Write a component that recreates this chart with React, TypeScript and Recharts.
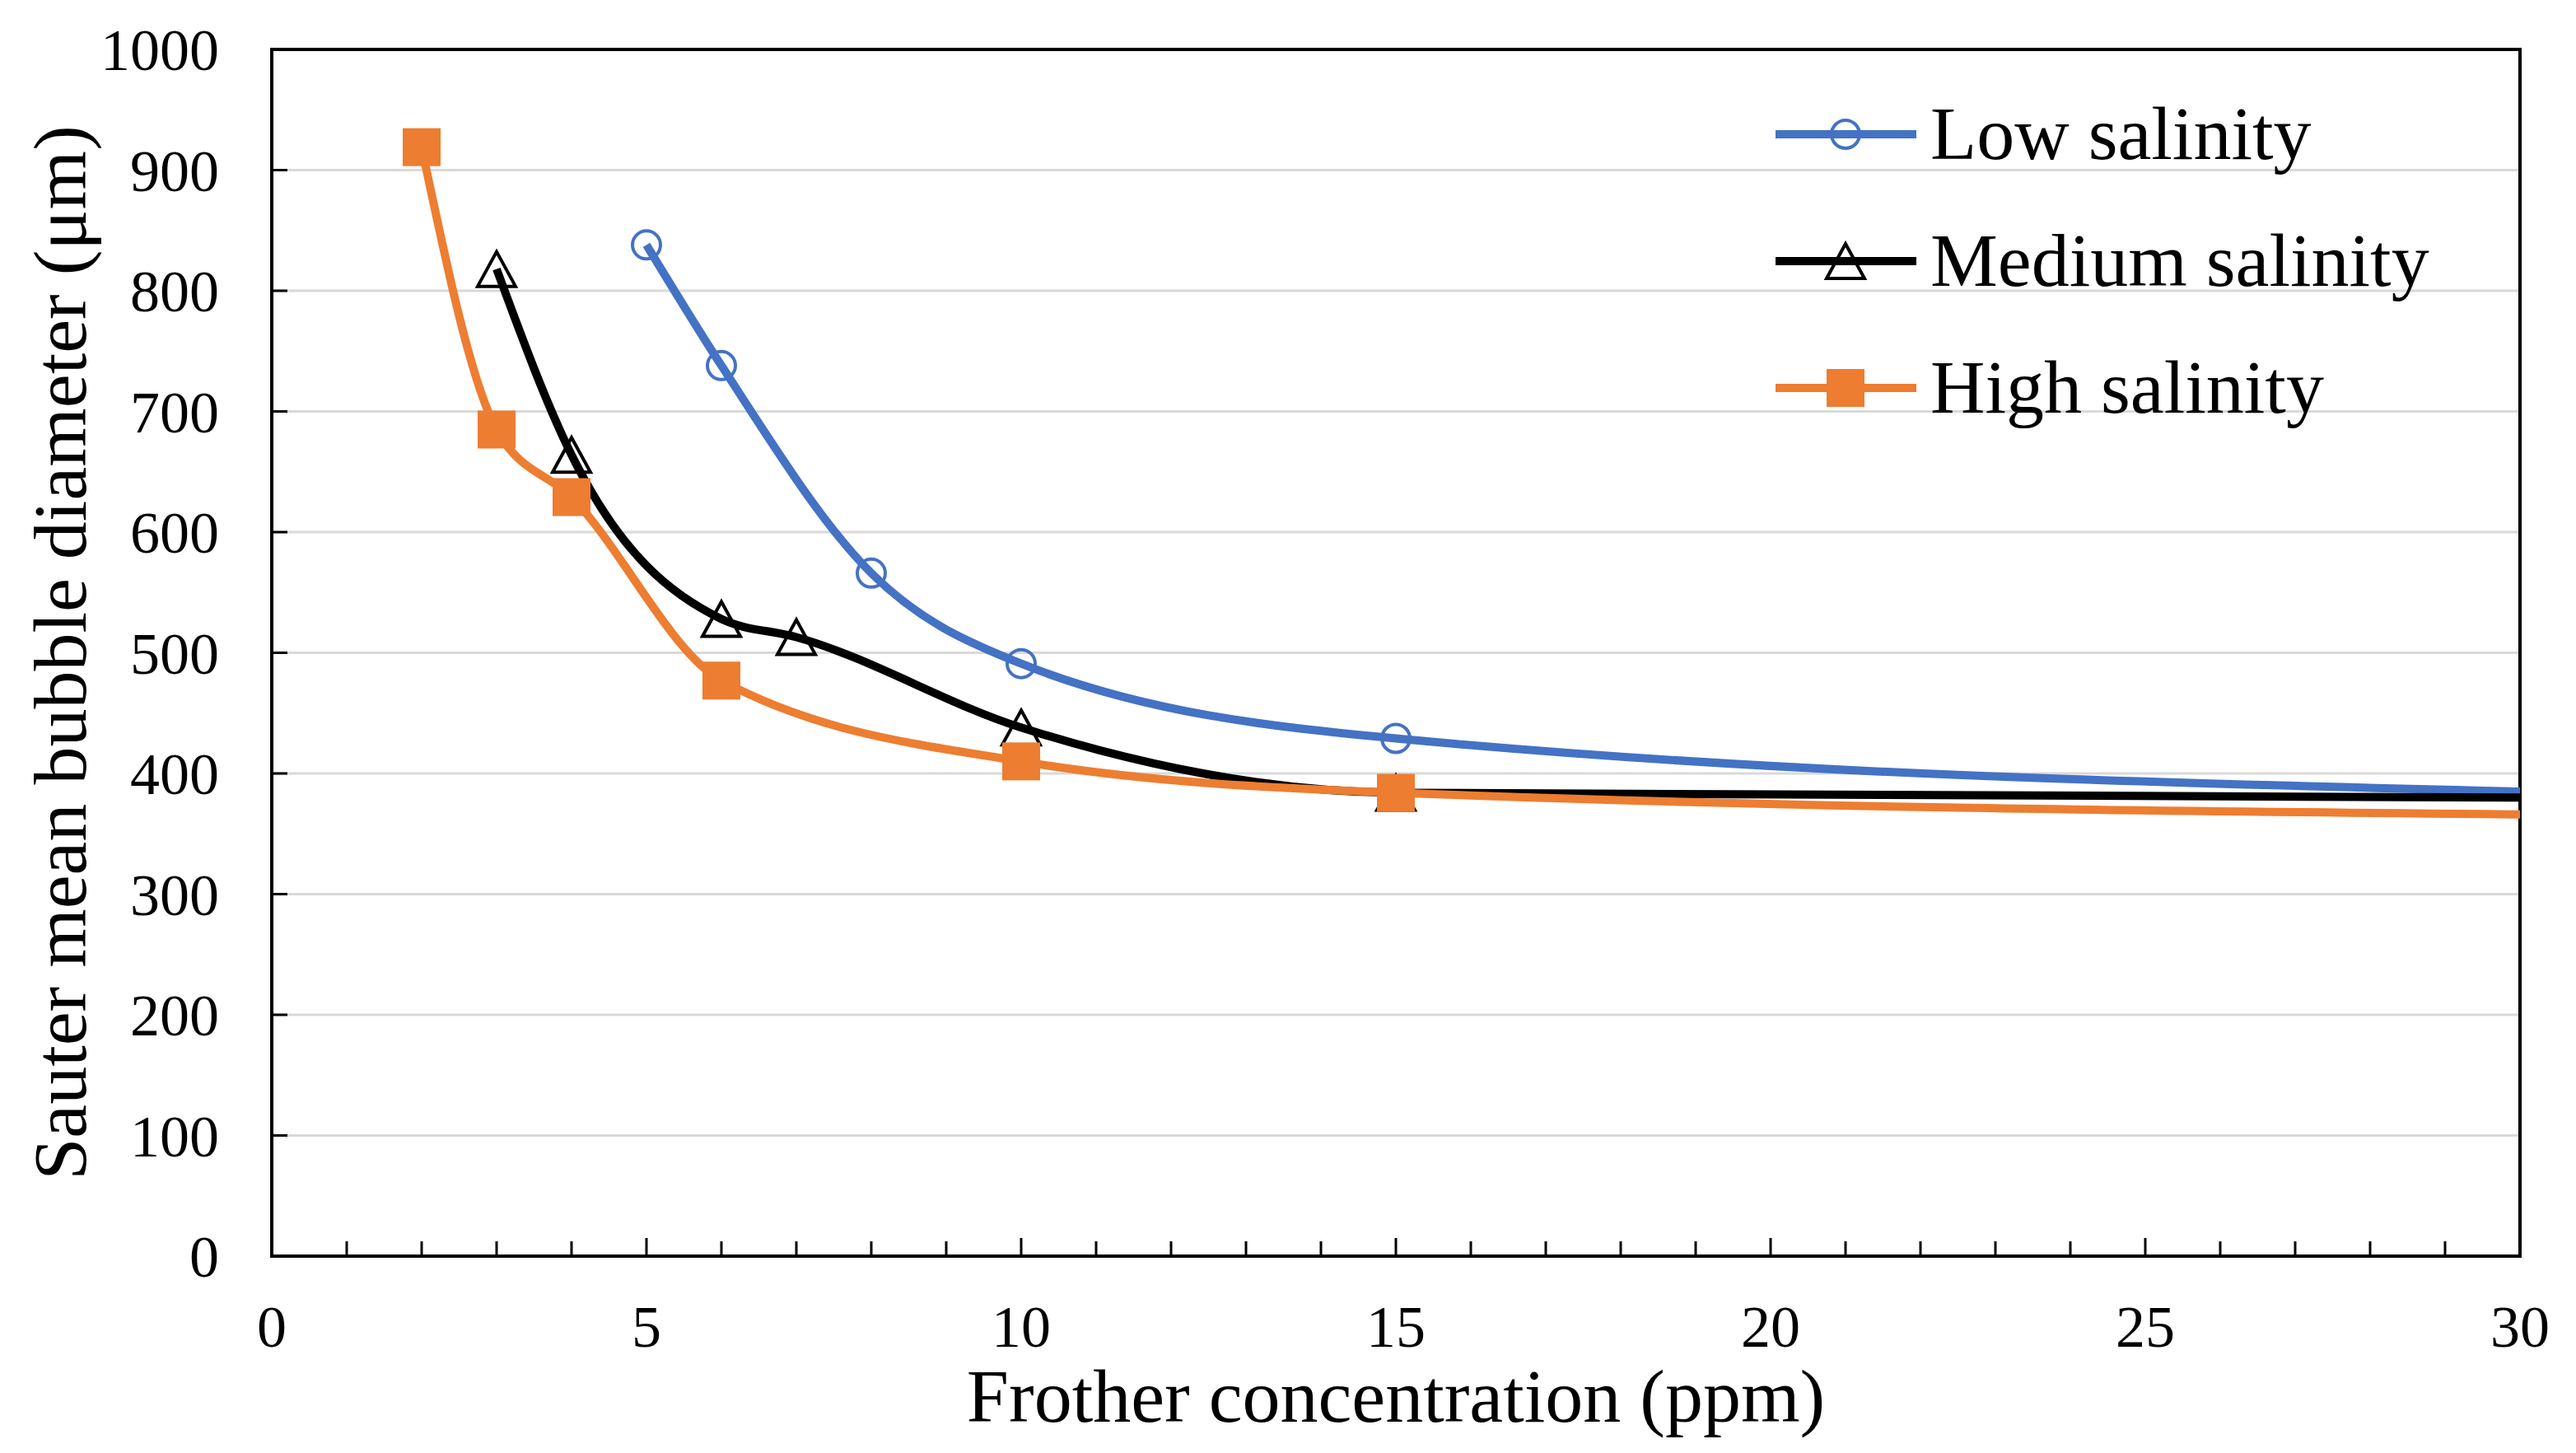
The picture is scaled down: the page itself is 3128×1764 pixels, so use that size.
import { LineChart, Line, XAxis, YAxis, CartesianGrid, ReferenceArea, Legend, Label } from "recharts";

// Sauter mean bubble diameter vs frother concentration, three salinity levels
const lowConc = [5, 6, 8, 10, 15, 30];
const lowD32 = [838, 738, 566, 491, 429, 385];

const medConc = [3, 4, 6, 7, 10, 15, 30];
const medD32 = [818, 664, 528, 513, 438, 384, 380];

const highConc = [2, 3, 4, 6, 10, 15, 30];
const highD32 = [919, 685, 629, 477, 410, 384, 366];

const xTicks = [0, 1, 2, 3, 4, 5, 6, 7, 8, 9, 10, 11, 12, 13, 14, 15, 16, 17, 18, 19, 20, 21, 22, 23, 24, 25, 26, 27, 28, 29, 30];
const yTicks = [0, 100, 200, 300, 400, 500, 600, 700, 800, 900, 1000];

const FONT = "'Liberation Serif', 'Times New Roman', serif";
const BLUE = "#4472C4";
const ORANGE = "#ED7D31";
const BLACK = "#000000";

const toRows = (key: string, xs: number[], ys: number[]) => xs.map((x, i) => ({ x, [key]: ys[i] }));
const lowData = toRows("low", lowConc, lowD32);
const medData = toRows("medium", medConc, medD32);
const highData = toRows("high", highConc, highD32);

// legend order and marker per series
const SERIES = ["low", "medium", "high"];
const SHAPES: Record<string, string> = { low: "circle", medium: "triangle", high: "square" };

// the curves run on to the right edge; no marker is drawn there
const AXIS_END = 30;

function Marker({ shape, cx, cy, color }: { shape: string; cx: number; cy: number; color: string }) {
  if (shape === "circle") {
    return <circle cx={cx} cy={cy} r={17} fill="none" stroke={color} strokeWidth={4} />;
  }
  if (shape === "triangle") {
    const w = 23, h = 42;
    return (
      <polygon
        points={`${cx},${cy - h / 2} ${cx + w},${cy + h / 2} ${cx - w},${cy + h / 2}`}
        fill="none"
        stroke={color}
        strokeWidth={4}
        strokeLinejoin="miter"
      />
    );
  }
  return <rect x={cx - 23} y={cy - 23} width={46} height={46} fill={color} />;
}

const makeDot = (shape: string, color: string) => (props: any) => {
  const { cx, cy, payload, index } = props;
  if (payload.x >= AXIS_END || cx == null || cy == null) return <g key={`d-${index}`} />;
  return <Marker key={`d-${index}`} shape={shape} cx={cx} cy={cy} color={color} />;
};

function XTick({ x, y, payload }: any) {
  const major = payload.value % 5 === 0;
  return (
    <g>
      <line x1={x} x2={x} y1={y} y2={y - (major ? 22 : 18)} stroke="#000" strokeWidth={3} />
      {major && (
        <text x={x} y={y + 110} textAnchor="middle" fontSize={72} fontFamily={FONT} fill="#000">
          {payload.value}
        </text>
      )}
    </g>
  );
}

function YTick({ x, y, payload }: any) {
  return (
    <g>
      <line x1={x + 64} x2={x + 83} y1={y} y2={y} stroke="#000" strokeWidth={3} />
      <text x={x} y={y} dy="0.35em" textAnchor="end" fontSize={72} fontFamily={FONT} fill="#000">
        {payload.value}
      </text>
    </g>
  );
}

function SalinityLegend({ payload }: any) {
  const items = SERIES.map((key) => (payload || []).find((p: any) => p.dataKey === key)).filter(Boolean);
  return (
    <svg width={900} height={420}>
      {items.map((entry: any, i: number) => {
        const cy = 53 + i * 154;
        return (
          <g key={entry.dataKey}>
            <line x1={16} x2={187} y1={cy} y2={cy} stroke={entry.color} strokeWidth={10} />
            <Marker shape={SHAPES[entry.dataKey]} cx={101} cy={cy} color={entry.color} />
            <text x={204} y={cy + 30} fontSize={92} fontFamily={FONT} fill="#000">
              {entry.value}
            </text>
          </g>
        );
      })}
    </svg>
  );
}

export default function App() {
  return (
    <div style={{ position: "absolute", left: 0, top: 0, width: 3128, height: 1764, background: "#fff" }}>
      <LineChart width={3128} height={1764} margin={{ top: 60, right: 68, left: 0, bottom: 0 }}>
        <CartesianGrid vertical={false} stroke="#D9D9D9" strokeWidth={3} />
        <XAxis
          type="number"
          dataKey="x"
          domain={[0, 30]}
          ticks={xTicks}
          interval={0}
          height={239}
          tickSize={0}
          tickMargin={0}
          axisLine={false}
          tickLine={false}
          tick={<XTick />}
        >
          <Label
            value="Frother concentration (ppm)"
            position="insideBottom"
            offset={38}
            fontSize={92}
            fontFamily={FONT}
            fill="#000"
          />
        </XAxis>
        <YAxis
          type="number"
          domain={[0, 1000]}
          ticks={yTicks}
          interval={0}
          width={330}
          tickSize={0}
          tickMargin={64}
          axisLine={false}
          tickLine={false}
          tick={<YTick />}
        >
          <Label
            content={(props: any) => {
              const vb = props.viewBox || { y: 60, height: 1465 };
              const cy = vb.y + vb.height / 2;
              return (
                <text
                  x={104}
                  y={cy}
                  transform={`rotate(-90, 104, ${cy})`}
                  textAnchor="middle"
                  fontSize={92}
                  fontFamily={FONT}
                  fill="#000"
                >
                  Sauter mean bubble diameter (μm)
                </text>
              );
            }}
          />
        </YAxis>
        <ReferenceArea x1={0} x2={30} y1={0} y2={1000} fill="none" fillOpacity={0} stroke="#000" strokeWidth={4} />
        <Legend
          layout="vertical"
          align="center"
          verticalAlign="middle"
          wrapperStyle={{ left: 2140, top: 110, width: 900, height: 420 }}
          content={<SalinityLegend />}
        />
        <Line
          data={lowData}
          dataKey="low"
          name="Low salinity"
          type="monotone"
          stroke={BLUE}
          strokeWidth={10}
          dot={makeDot("circle", BLUE)}
          activeDot={false}
          isAnimationActive={false}
        />
        <Line
          data={medData}
          dataKey="medium"
          name="Medium salinity"
          type="monotone"
          stroke={BLACK}
          strokeWidth={10}
          dot={makeDot("triangle", BLACK)}
          activeDot={false}
          isAnimationActive={false}
        />
        <Line
          data={highData}
          dataKey="high"
          name="High salinity"
          type="monotone"
          stroke={ORANGE}
          strokeWidth={10}
          dot={makeDot("square", ORANGE)}
          activeDot={false}
          isAnimationActive={false}
        />
      </LineChart>
    </div>
  );
}
